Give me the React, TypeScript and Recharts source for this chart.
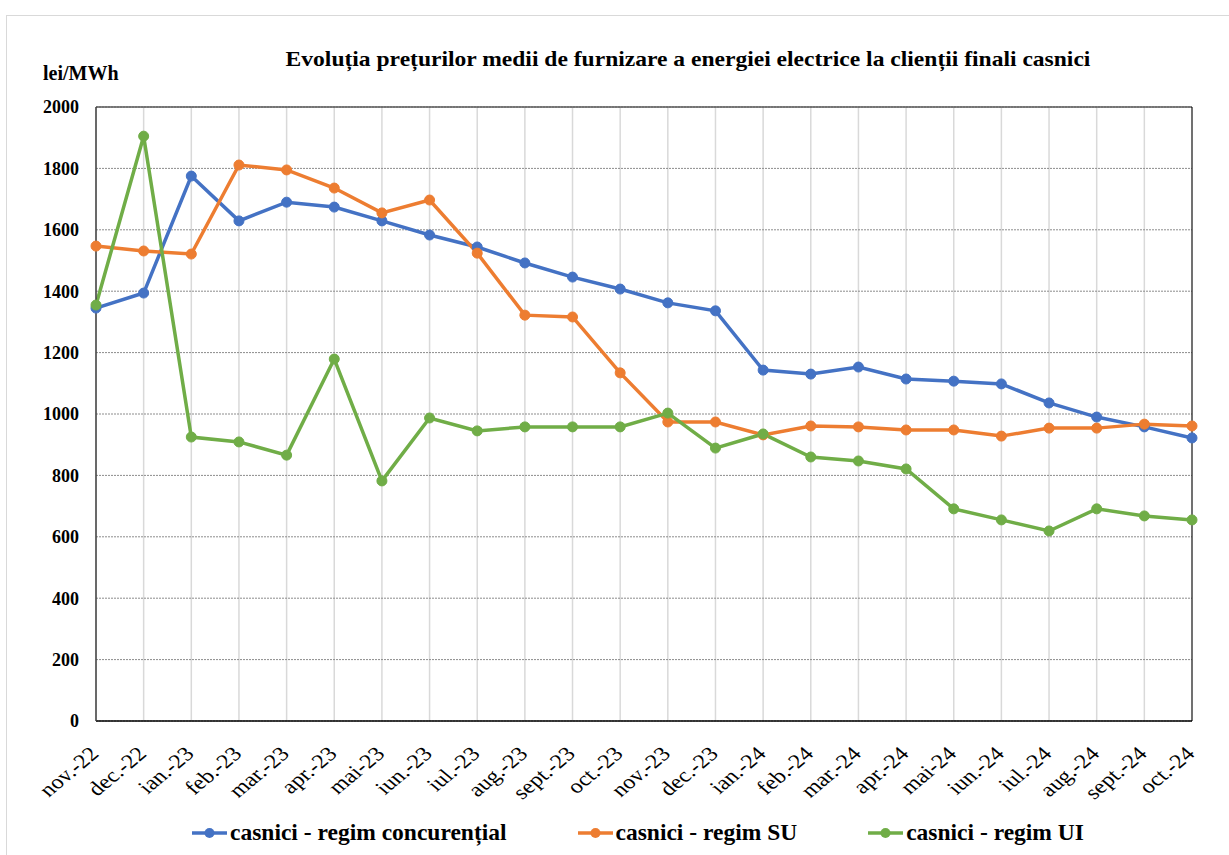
import { LineChart, Line, XAxis, YAxis, CartesianGrid, Legend, ReferenceLine } from 'recharts';

const months = [
  'nov.-22', 'dec.-22', 'ian.-23', 'feb.-23', 'mar.-23', 'apr.-23', 'mai-23', 'iun.-23',
  'iul.-23', 'aug.-23', 'sept.-23', 'oct.-23', 'nov.-23', 'dec.-23', 'ian.-24', 'feb.-24',
  'mar.-24', 'apr.-24', 'mai-24', 'iun.-24', 'iul.-24', 'aug.-24', 'sept.-24', 'oct.-24',
];

const concurential = [
  1345, 1394, 1775, 1629, 1690, 1674, 1629, 1583, 1544, 1492, 1446, 1407,
  1362, 1336, 1143, 1130, 1153, 1114, 1107, 1098, 1036, 990, 958, 922,
];

const regimSU = [
  1547, 1531, 1521, 1811, 1795, 1736, 1655, 1697, 1524, 1322, 1316, 1134,
  974, 974, 932, 961, 958, 948, 948, 928, 954, 954, 967, 961,
];

const regimUI = [
  1355, 1905, 925, 909, 866, 1179, 782, 987, 945, 958, 958, 958,
  1003, 889, 935, 860, 847, 821, 691, 655, 619, 691, 668, 655,
];

const seriesNames = ['casnici - regim concurențial', 'casnici - regim SU', 'casnici - regim UI'];

const yTicks = [0, 200, 400, 600, 800, 1000, 1200, 1400, 1600, 1800, 2000];

const chartData = months.map((m, i) => ({
  month: m,
  conc: concurential[i],
  su: regimSU[i],
  ui: regimUI[i],
}));

const FONT = '"Liberation Serif", "Times New Roman", serif';

// month labels are slanted at 45deg and a bit stretched, like the source
const XTick = ({ x, y, payload }: any) => (
  <text
    x={0}
    y={0}
    transform={`translate(${x + 4},${y + 34}) scale(1.2,1) rotate(-45)`}
    textAnchor="end"
    fontFamily={FONT}
    fontSize={20}
    fill="#000"
  >
    {payload.value}
  </text>
);

const LegendContent = ({ payload }: any) => {
  const items = [...(payload || [])].sort(
    (a: any, b: any) => seriesNames.indexOf(a.value) - seriesNames.indexOf(b.value)
  );
  return (
    <div
      style={{
        display: 'flex',
        justifyContent: 'flex-start',
        gap: 71,
        paddingLeft: 185,
        paddingTop: 10,
        fontFamily: FONT,
        fontWeight: 'bold',
        fontSize: 23.5,
      }}
    >
      {items.map((entry: any) => (
        <div key={entry.value} style={{ display: 'flex', alignItems: 'center' }}>
          <svg width={35} height={12} style={{ marginRight: 3 }}>
            <line x1={0} y1={6} x2={35} y2={6} stroke={entry.color} strokeWidth={3.5} />
            <circle cx={17.5} cy={6} r={5} fill={entry.color} />
          </svg>
          <span>{entry.value}</span>
        </div>
      ))}
    </div>
  );
};

export default function App() {
  return (
    <div
      style={{
        position: 'absolute',
        left: 6,
        top: 15,
        width: 1230,
        height: 850,
        border: '1px solid #d9d9d9',
        background: '#fff',
      }}
    >
      <div
        style={{
          position: 'absolute',
          left: 681,
          top: 29.5,
          transform: 'translateX(-50%) scaleX(1.07)',
          whiteSpace: 'nowrap',
          fontFamily: FONT,
          fontWeight: 'bold',
          fontSize: 22,
        }}
      >
        Evoluția prețurilor medii de furnizare a energiei electrice la clienții finali casnici
      </div>
      <div
        style={{
          position: 'absolute',
          left: 36,
          top: 46,
          fontFamily: FONT,
          fontWeight: 'bold',
          fontSize: 20,
        }}
      >
        lei/MWh
      </div>
      <LineChart
        width={1222}
        height={838}
        data={chartData}
        margin={{ top: 91, right: 37, left: 0, bottom: 5 }}
      >
        <CartesianGrid horizontal={false} vertical stroke="#d9d9d9" strokeWidth={1.5} />
        <CartesianGrid horizontal vertical={false} stroke="#8c8c8c" strokeDasharray="2 1" />
        <XAxis
          dataKey="month"
          interval={0}
          height={88}
          tickSize={0}
          tickMargin={0}
          axisLine={{ stroke: '#000', strokeWidth: 1.5 }}
          tickLine={false}
          tick={<XTick />}
        />
        <YAxis
          domain={[0, 2000]}
          ticks={yTicks}
          width={89}
          tickSize={0}
          tickMargin={17}
          axisLine={{ stroke: '#404040', strokeWidth: 1.5 }}
          tickLine={false}
          tick={{ fill: '#000', fontFamily: FONT, fontWeight: 'bold', fontSize: 18 }}
        />
        <ReferenceLine y={2000} stroke="#595959" strokeWidth={1.5} />
        <ReferenceLine x="oct.-24" stroke="#000" strokeWidth={1} />
        <Legend
          verticalAlign="bottom"
          height={40}
          content={<LegendContent />}
          wrapperStyle={{ left: 0, width: 1222 }}
        />
        <Line
          name={seriesNames[0]}
          dataKey="conc"
          stroke="#4472C4"
          strokeWidth={3.5}
          dot={{ r: 5, fill: '#4472C4', stroke: '#4472C4', strokeWidth: 1 }}
          activeDot={false}
          isAnimationActive={false}
        />
        <Line
          name={seriesNames[1]}
          dataKey="su"
          stroke="#ED7D31"
          strokeWidth={3.5}
          dot={{ r: 5, fill: '#ED7D31', stroke: '#ED7D31', strokeWidth: 1 }}
          activeDot={false}
          isAnimationActive={false}
        />
        <Line
          name={seriesNames[2]}
          dataKey="ui"
          stroke="#70AD47"
          strokeWidth={3.5}
          dot={{ r: 5, fill: '#70AD47', stroke: '#70AD47', strokeWidth: 1 }}
          activeDot={false}
          isAnimationActive={false}
        />
      </LineChart>
    </div>
  );
}
